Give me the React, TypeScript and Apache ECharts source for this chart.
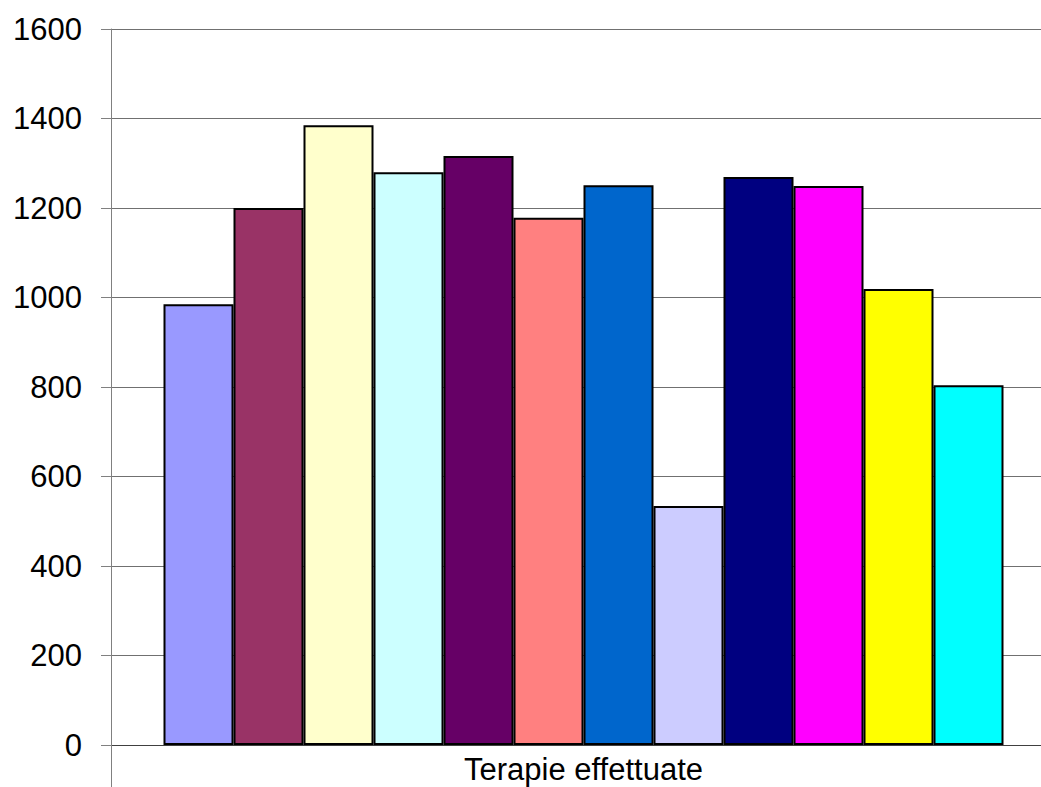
import React, { useEffect, useRef } from "react";
import * as echarts from "echarts";

const categories = ["Terapie effettuate"];
const seriesValues = [985, 1200, 1385, 1280, 1316, 1178, 1251, 534, 1269, 1249, 1019, 804];
const seriesColors = [
  "#9999FF", "#993366", "#FFFFCC", "#CCFFFF", "#660066", "#FF8080",
  "#0066CC", "#CCCCFF", "#000080", "#FF00FF", "#FFFF00", "#00FFFF",
];
const yTicks = { min: 0, max: 1600, interval: 200 };

export default function App() {
  const ref = useRef<HTMLDivElement>(null);
  useEffect(() => {
    if (!ref.current) return;
    const chart = echarts.init(ref.current, undefined, { renderer: "svg" });
    chart.setOption({
      animation: false,
      backgroundColor: "#ffffff",
      textStyle: { fontFamily: "Liberation Sans" },
      grid: { left: 111, top: 29, bottom: 42, right: 0, containLabel: false },
      xAxis: {
        type: "category",
        data: categories,
        boundaryGap: true,
        axisLine: { show: true, lineStyle: { color: "#404040", width: 1 } },
        axisTick: { show: true, length: 44, lineStyle: { color: "#808080" } },
        axisLabel: { fontSize: 31, lineHeight: 31, color: "#000", margin: 9 },
        splitLine: { show: false },
      },
      yAxis: {
        type: "value",
        min: yTicks.min,
        max: yTicks.max,
        interval: yTicks.interval,
        axisLine: { show: true, lineStyle: { color: "#808080", width: 1 } },
        axisTick: { show: true, inside: false, length: 10, lineStyle: { color: "#808080" } },
        axisLabel: { fontSize: 31, color: "#000", margin: 29, formatter: (v: number) => String(v) },
        splitLine: { show: true, lineStyle: { color: "#707070", width: 1 } },
      },
      series: seriesValues.map((v, i) => ({
        type: "bar",
        name: "S" + (i + 1),
        data: [v],
        barGap: "0%",
        barWidth: 70,
        itemStyle: { color: seriesColors[i], borderColor: "#000", borderWidth: 2 },
      })),
    });
    return () => chart.dispose();
  }, []);
  return (
    <div
      ref={ref}
      style={{ position: "fixed", left: 0, top: 0, width: 1056, height: 787 }}
    />
  );
}
